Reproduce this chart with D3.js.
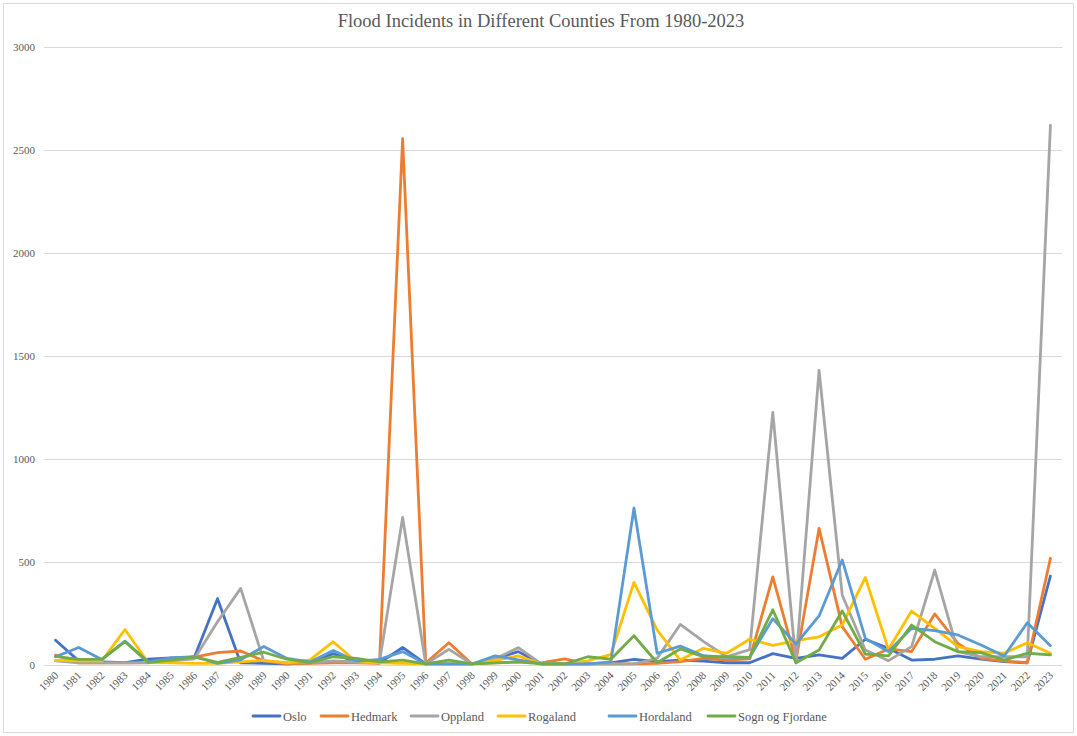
<!DOCTYPE html>
<html>
<head>
<meta charset="utf-8">
<script src="https://cdn.jsdelivr.net/npm/d3@7"></script>
<style>
  html, body { margin: 0; padding: 0; background: #ffffff; }
  svg { display: block; }
  text { font-family: "Liberation Serif", "DejaVu Serif", serif; fill: #595959; }
</style>
</head>
<body>
<svg id="chart" width="1077" height="736"></svg>
<script>
// Flood incidents per county, 1980-2023
const years = d3.range(1980, 2024).map(String);

const oslo = [120, 20, 15, 12, 28, 35, 38, 322, 10, 8, 5, 10, 55, 15, 10, 85, 5, 5, 5, 30, 65, 5, 5, 5, 10, 27, 16, 24, 19, 11, 11, 55, 32, 49, 32, 125, 81, 24, 28, 44, 28, 16, 11, 432];
const hedmark = [48, 10, 10, 10, 12, 20, 38, 60, 68, 20, 5, 8, 10, 10, 8, 2555, 10, 108, 5, 10, 15, 10, 30, 5, 5, 5, 8, 16, 32, 24, 30, 428, 20, 663, 186, 28, 78, 65, 248, 105, 32, 19, 11, 518];
const oppland = [20, 10, 10, 10, 10, 20, 30, 210, 372, 20, 10, 10, 20, 15, 15, 716, 5, 76, 5, 30, 84, 5, 5, 5, 5, 5, 32, 197, 115, 40, 75, 1226, 10, 1430, 340, 73, 21, 89, 461, 65, 40, 40, 40, 2620];
const rogaland = [22, 20, 20, 172, 12, 10, 8, 8, 15, 22, 10, 25, 113, 15, 10, 8, 5, 5, 5, 22, 44, 5, 5, 20, 50, 401, 170, 24, 81, 57, 125, 95, 118, 137, 194, 425, 75, 262, 178, 89, 65, 57, 108, 57];
const hordaland = [40, 85, 27, 116, 15, 35, 40, 8, 25, 90, 32, 15, 70, 18, 27, 65, 5, 5, 5, 44, 25, 5, 5, 5, 15, 762, 57, 92, 45, 37, 37, 225, 102, 238, 510, 129, 65, 178, 167, 146, 97, 44, 205, 94];
const sognOgFjordane = [42, 27, 27, 113, 12, 24, 40, 13, 37, 62, 28, 12, 40, 32, 15, 24, 5, 24, 5, 10, 15, 5, 5, 40, 28, 142, 11, 78, 40, 40, 37, 268, 11, 73, 262, 53, 44, 194, 113, 65, 60, 24, 57, 49];

const seriesNames = ["Oslo", "Hedmark", "Oppland", "Rogaland", "Hordaland", "Sogn og Fjordane"];
const seriesValues = [oslo, hedmark, oppland, rogaland, hordaland, sognOgFjordane];
const seriesColors = ["#4472C4", "#ED7D31", "#A5A5A5", "#FFC000", "#5B9BD5", "#70AD47"];
const yTicks = [0, 500, 1000, 1500, 2000, 2500, 3000];

const svg = d3.select("#chart");
const W = 1077, H = 736;
const plot = { left: 44, right: 1062, top: 47, bottom: 665 };

// chart area frame
svg.append("rect")
  .attr("x", 3.5).attr("y", 3.5)
  .attr("width", W - 7).attr("height", H - 7)
  .attr("fill", "#ffffff")
  .attr("stroke", "#d9d9d9").attr("stroke-width", 1);

const x = d3.scalePoint().domain(years).range([plot.left, plot.right]).padding(0.5);
const y = d3.scaleLinear().domain([0, 3000]).range([plot.bottom, plot.top]);

// horizontal gridlines + value labels
const yAxis = d3.axisLeft(y).tickValues(yTicks).tickSize(-(plot.right - plot.left)).tickPadding(9).tickFormat(d3.format("d"));
const gy = svg.append("g").attr("transform", `translate(${plot.left},0)`).call(yAxis);
gy.select(".domain").remove();
gy.selectAll(".tick line").attr("stroke", "#d9d9d9").attr("stroke-width", 1);
gy.selectAll(".tick text").attr("font-size", 11).attr("fill", "#595959")
  .style("font-family", "'Liberation Serif', serif");

// category axis
const xAxis = d3.axisBottom(x).tickSize(0).tickPadding(0);
const gx = svg.append("g").attr("transform", `translate(0,${plot.bottom})`).call(xAxis);
gx.select(".domain").attr("stroke", "#d9d9d9").attr("stroke-width", 1);
gx.selectAll(".tick text")
  .attr("font-size", 11).attr("fill", "#595959")
  .style("font-family", "'Liberation Serif', serif")
  .attr("text-anchor", "end")
  .attr("dy", 0)
  .attr("transform", "translate(3,11) rotate(-45)");

// series lines
const line = d3.line()
  .x((d, i) => x(years[i]))
  .y(d => y(d));

seriesValues.forEach((vals, k) => {
  svg.append("path")
    .datum(vals)
    .attr("fill", "none")
    .attr("stroke", seriesColors[k])
    .attr("stroke-width", 2.8)
    .attr("stroke-linejoin", "round")
    .attr("stroke-linecap", "round")
    .attr("d", line);
});

// title
svg.append("text")
  .attr("x", 541).attr("y", 27)
  .attr("text-anchor", "middle")
  .attr("font-size", 18.5)
  .text("Flood Incidents in Different Counties From 1980-2023");

// legend
const legendX = [253, 321, 411, 498, 609, 708];
const lg = svg.append("g");
seriesNames.forEach((name, k) => {
  const g = lg.append("g").attr("transform", `translate(${legendX[k]},716)`);
  g.append("line").attr("x1", 0).attr("x2", 27).attr("y1", 0).attr("y2", 0)
    .attr("stroke", seriesColors[k]).attr("stroke-width", 2.8).attr("stroke-linecap", "round");
  g.append("text").attr("x", 30).attr("y", 4.5).attr("font-size", 12.5).text(name);
});
</script>
</body>
</html>
